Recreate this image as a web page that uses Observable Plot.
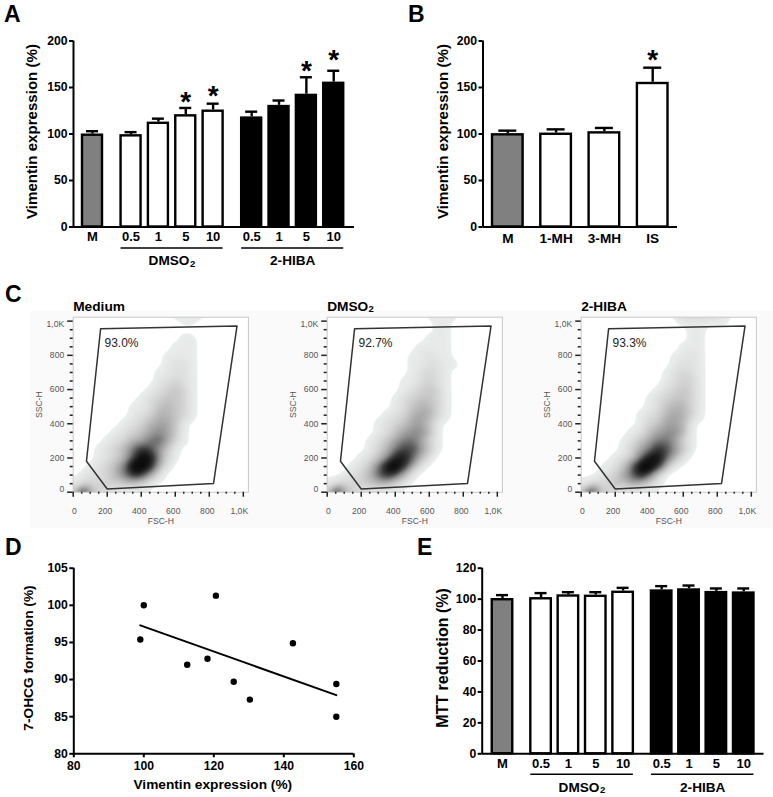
<!DOCTYPE html>
<html><head><meta charset="utf-8">
<script src="https://cdn.jsdelivr.net/npm/d3@7"></script>
<script src="https://cdn.jsdelivr.net/npm/@observablehq/plot@0.6"></script>
<style>
html,body{margin:0;padding:0;background:#fff;overflow:hidden}
#page{position:relative;width:773px;height:797px;overflow:hidden;font-family:"Liberation Sans",Arial,sans-serif}
#page svg{position:absolute;overflow:visible;background:transparent}
.letter{position:absolute;font-weight:bold;font-size:23px;line-height:1;color:#000}
#cbg{position:absolute;left:30px;top:311px;width:743px;height:217px;background:#fafafa}
</style></head><body><div id="page"><div id="cbg"></div></div>
<script>
// Panel A
const aLabels = ["M","0.5","1","5","10","0.5","1","5","10"];
const aGroups = [0,1,1,1,1,2,2,2,2];
const aValues = [100,99.3,112.8,120.8,125.8,118.4,130.8,142.8,155.8];
const aErrors = [3,2.7,3.7,7.2,6.8,5.6,5.2,18.2,12.2];
const aStars  = [null,null,null,139,145,null,null,172,183.5];
const groupNames = ["DMSO","2-HIBA"];
const groupSubs  = ["2",null];
const vimTicks = [0,50,100,150,200];
// Panel B
const bLabels = ["M","1-MH","3-MH","IS"];
const bGroups = [0,1,1,1];
const bValues = [100.4,101,102.5,155.6];
const bErrors = [3.2,4,4,15.7];
const bStars  = [null,null,null,184];
// Panel D
const dVimentin = [99,100,112.4,118.2,120.6,125.7,130.3,142.6,155,155];
const dOhcg     = [95.4,100,92,92.8,101.3,89.7,87.3,94.9,89.4,85];
const dFitX = [99,155];
const dFitY = [97.3,87.9];
const dTicksX = [80,100,120,140,160];
const dTicksY = [80,85,90,95,100,105];
// Panel E
const eValues = [100.4,101,102.8,102.6,105.2,106,106.7,105,104.7];
const eErrors = [2.2,2.9,1.7,1.9,2.1,2.4,2.1,1.9,2.2];
const eTicks  = [0,20,40,60,80,100,120];
// Panel C: density, one hex digit per FSC step (0..1000 by 50), one row per SSC level
const cSsc = [1023,1000,950,900,850,800,750,700,650,600,550,500,450,400,350,300,250,200,150,100,50,0];
const cMedium = [
"000000000000111100000",
"000000000000011000000",
"000000000000000000000",
"000000000000011000000",
"000000000000111000000",
"000000000001111000000",
"000000000001221000000",
"000000000011221000000",
"000000000012321000000",
"000000000123431000000",
"000000001234431000000",
"000000011245431000000",
"000000012355431000000",
"000000123566410000000",
"000001234676410000000",
"000012356896310000000",
"00012358ba74100000000",
"00012359ed83100000000",
"0012358efc62000000000",
"0122358ba620000000000",
"123333443100000000000",
"4c6321000000000000000"];
const cDmso = [
"000000000000111100000",
"000000000000011000000",
"000000000000011000000",
"000000000000111000000",
"000000000001111000000",
"000000000011211000000",
"000000000011221100000",
"000000000012321000000",
"000000000112321000000",
"000000000123431000000",
"000000001234431000000",
"000000001245531000000",
"000000012356531000000",
"000000123466410000000",
"000000124677510000000",
"000001246886310000000",
"000001358aa7410000000",
"00001247cd95200000000",
"0001248dfb62000000000",
"0012359b9510000000000",
"123334553100000000000",
"4c6321000000000000000"];
const cHiba = [
"000000000001333321000",
"000000000000111111000",
"000000000000011000000",
"000000000000011000000",
"000000000000111000000",
"000000000001121000000",
"000000000001221000000",
"000000000012321000000",
"000000000012331000000",
"000000000123431000000",
"000000001234431000000",
"000000001245531000000",
"000000012356531000000",
"000000013466510000000",
"000000124677510000000",
"000001246886310000000",
"000001368ba7410000000",
"00001248de95200000000",
"0001249efb51000000000",
"0012369c8300000000000",
"123344653100000000000",
"4c6321000000000000000"];
const cTitles = ["Medium","DMSO","2-HIBA"];
const cTitleSubs = [null,"2",null];
const cPercents = ["93.0%","92.7%","93.3%"];
const gateFsc = [161,963,825,200,78,161];
const gateSsc = [955,971,51,19,181,955];
const cMajor = [0,200,400,600,800,1000];
const cMinor = [50,100,150,250,300,350,450,500,550,650,700,750,850,900,950];

const FONT = '"Liberation Sans",Arial,sans-serif';
const page = document.getElementById("page");
function place(svg,x,y){svg.style.left=x+"px";svg.style.top=y+"px";page.appendChild(svg);}
function letter(t,x,base){const d=document.createElement("div");d.className="letter";d.textContent=t;d.style.left=x+"px";d.style.top=(base-19.5)+"px";page.appendChild(d);}
const baseStyle = {fontFamily:FONT,fontWeight:"bold",fontSize:"13px",color:"#000",background:"transparent",overflow:"visible"};

function barPanel(c){
  let pos=0;
  const rows=c.values.map((v,i)=>{
    if(i>0) pos+=1+(c.groups[i]!==c.groups[i-1]?c.gap:0);
    return {label:c.labels[i],group:c.groups[i],v,top:v+c.errors[i],star:c.stars?c.stars[i]:null,p:pos,
      fill:c.groups[i]===0?"#808080":(c.groups[i]===2?"#000":"#fff")};
  });
  const lo=(c.axis[0]-c.center0)/c.step, hi=(c.axis[1]-c.center0)/c.step;
  const hw=c.barW/2/c.step, cap=c.capW/2/c.step;
  const mL=c.axis[0]-c.box[0], mR=c.box[0]+c.box[2]-c.axis[1];
  const mT=c.yPx[1]-c.box[1], mB=c.box[1]+c.box[3]-c.yPx[0];
  const marks=[
    Plot.ruleX(rows,{x:"p",y1:"v",y2:"top",stroke:"#000",strokeWidth:2.4}),
    Plot.ruleY(rows,{y:"top",x1:d=>d.p-cap,x2:d=>d.p+cap,stroke:"#000",strokeWidth:2.4}),
    Plot.rect(rows,{x1:d=>d.p-hw,x2:d=>d.p+hw,y1:()=>0,y2:"v",insetTop:1.2,fill:"fill",stroke:"#000",strokeWidth:2.4}),
    Plot.axisY({ticks:c.yTicks,tickSize:4,tickPadding:2,strokeWidth:2,stroke:"#000",fill:"#000",label:null,fontSize:12.2,tickFormat:d=>d}),
    Plot.ruleX([lo],{stroke:"#000",strokeWidth:2}),
    Plot.ruleY([0],{stroke:"#000",strokeWidth:2}),
    Plot.text(rows,{x:"p",y:()=>0,text:"label",dy:c.labelDy,lineAnchor:"middle",fontSize:c.labelFont,fill:"#000"}),
    Plot.text([c.yTitle],{frameAnchor:"left",textAnchor:"middle",lineAnchor:"middle",rotate:-90,dx:c.titleX-c.axis[0],dy:c.titleDy,fontSize:c.titleFont,fill:"#000"})
  ];
  const starred=rows.filter(d=>d.star!=null);
  if(starred.length) marks.push(Plot.text(starred,{x:"p",y:"star",text:()=>"*",lineAnchor:"middle",dy:4,fontSize:28,fill:"#000"}));
  if(c.groupNames){
    c.groupNames.forEach((name,k)=>{
      const g=rows.filter(d=>d.group===k+1);
      const a=g[0].p-hw,b=g[g.length-1].p+hw,m=(a+b)/2,sub=c.groupSubs[k];
      marks.push(Plot.ruleY([0],{x1:a,x2:b,dy:c.groupRuleDy,stroke:"#000",strokeWidth:1.5}));
      marks.push(Plot.text([name],{x:m,y:()=>0,dx:sub?-23.5:0,dy:c.groupTextDy,textAnchor:sub?"start":"middle",lineAnchor:"middle",fontSize:13.6,fill:"#000"}));
      if(sub) marks.push(Plot.text([sub],{x:m,y:()=>0,dx:17.8,dy:c.groupTextDy+3,textAnchor:"start",lineAnchor:"middle",fontSize:9.5,fill:"#000"}));
    });
  }
  const svg=Plot.plot({width:c.box[2],height:c.box[3],marginLeft:mL,marginRight:mR,marginTop:mT,marginBottom:mB,
    x:{type:"linear",domain:[lo,hi],axis:null},y:{domain:c.yDomain,axis:null},color:{type:"identity"},style:baseStyle,marks});
  place(svg,c.box[0],c.box[1]);
}

barPanel({box:[0,20,375,250],axis:[73,354],yPx:[226.5,40.5],center0:92,step:27.35,gap:0.41,barW:20,capW:12,
  labels:aLabels,groups:aGroups,values:aValues,errors:aErrors,stars:aStars,groupNames,groupSubs,yTicks:vimTicks,yDomain:[0,200],
  yTitle:"Vimentin expression (%)",titleX:32,titleDy:-2.5,titleFont:15.1,labelDy:9.5,labelFont:13,groupRuleDy:21,groupTextDy:34});
barPanel({box:[400,20,290,230],axis:[482.5,677],yPx:[226.5,40.5],center0:507.3,step:48.3,gap:0,barW:30.6,capW:18,
  labels:bLabels,groups:bGroups,values:bValues,errors:bErrors,stars:bStars,yTicks:vimTicks,yDomain:[0,200],
  yTitle:"Vimentin expression (%)",titleX:442.7,titleDy:-2.5,titleFont:15.1,labelDy:11.5,labelFont:13.6});
barPanel({box:[400,555,373,242],axis:[481.7,763.5],yPx:[753.3,567.7],center0:502,step:27.35,gap:0.41,barW:20.5,capW:12,
  labels:aLabels,groups:aGroups,values:eValues,errors:eErrors,groupNames,groupSubs,yTicks:eTicks,yDomain:[0,120],
  yTitle:"MTT reduction (%)",titleX:442.7,titleDy:-3,titleFont:16,labelDy:10,labelFont:13,groupRuleDy:20.5,groupTextDy:33.5});

// Panel D
{
  const pts=dVimentin.map((x,i)=>({x,y:dOhcg[i]}));
  const fit=dFitX.map((x,i)=>({x,y:dFitY[i]}));
  const box=[0,555,375,242];
  const svg=Plot.plot({width:box[2],height:box[3],marginLeft:73.3,marginRight:375-353.3,marginTop:567.7-555,marginBottom:797-753.3,
    x:{domain:[80,160],axis:null},y:{domain:[80,105],axis:null},style:baseStyle,marks:[
      Plot.axisY({ticks:dTicksY,tickSize:4,tickPadding:2,strokeWidth:2,stroke:"#000",fill:"#000",label:null,fontSize:12.2,tickFormat:d=>d}),
      Plot.axisX({ticks:dTicksX,tickSize:4,tickPadding:4,strokeWidth:2,stroke:"#000",fill:"#000",label:null,fontSize:12.2,tickFormat:d=>d}),
      Plot.ruleX([80],{stroke:"#000",strokeWidth:2}),
      Plot.ruleY([80],{stroke:"#000",strokeWidth:2}),
      Plot.line(fit,{x:"x",y:"y",stroke:"#000",strokeWidth:2}),
      Plot.dot(pts,{x:"x",y:"y",r:3.2,fill:"#000"}),
      Plot.text(["Vimentin expression (%)"],{frameAnchor:"bottom",lineAnchor:"middle",dy:30.5,dx:-1,fontSize:13.7,fill:"#000"}),
      Plot.text(["7-OHCG formation (%)"],{frameAnchor:"left",textAnchor:"middle",lineAnchor:"middle",rotate:-90,dx:28-73.3,dy:-3,fontSize:13.7,fill:"#000"})
    ]});
  place(svg,box[0],box[1]);
}

// Panel C
function smoothField(index,w,h,X,Y,V){
  const B=Plot.interpolatorBarycentric()(index,w,h,X,Y,V);
  const W=Float64Array.from(B,v=>+v||0);
  if(d3.blur2) d3.blur2({data:W,width:w,height:h},3);
  return W;
}
function flowPanel(i,grid,x0){
  const cells=[];
  grid.forEach((row,r)=>{for(let k=0;k<=20;k++){const ch=row[k]||"0";cells.push({f:k*50,s:cSsc[r],v:parseInt(ch,16)});}});
  const gate=gateFsc.map((f,k)=>({f,s:gateSsc[k]}));
  const left=x0-42.7, top=312;
  const tick={strokeWidth:1.5,stroke:"#222",fill:"#555",label:null};
  const small={fontSize:8.6,fontWeight:"normal",fill:"#555",fontFamily:FONT};
  const marks=[
      Plot.frame({fill:"#fff",stroke:"none"}),
      Plot.raster(cells,{x:"f",y:"s",fill:"v",interpolate:smoothField,pixelSize:1}),
      Plot.frame({stroke:"#c8c8c8",strokeWidth:1}),
      Plot.axisY({ticks:cMinor,tickSize:3,tickFormat:()=>"",...tick}),
      Plot.axisY({ticks:cMajor,tickSize:5.5,tickFormat:()=>"",...tick}),
      Plot.axisX({ticks:cMinor,tickSize:2,tickFormat:()=>"",...tick}),
      Plot.axisX({ticks:cMajor,tickSize:5,tickFormat:()=>"",...tick}),
      Plot.line(gate,{x:"f",y:"s",stroke:"#333",strokeWidth:1.5}),
      Plot.text([0],{x:d=>d,frameAnchor:"bottom",lineAnchor:"middle",dy:19,dx:1.2,text:()=>"0",...small}),
      Plot.text(cMajor.slice(1,5),{x:d=>d,frameAnchor:"bottom",lineAnchor:"middle",dy:19,dx:-2,text:d=>String(d),...small}),
      Plot.text([1000],{x:d=>d,frameAnchor:"bottom",lineAnchor:"middle",dy:19,dx:-4,text:()=>"1,0K",...small}),
      Plot.text([0],{y:d=>d,frameAnchor:"left",textAnchor:"end",lineAnchor:"middle",dx:-9,dy:-3,text:()=>"0",...small}),
      Plot.text(cMajor.slice(1,5),{y:d=>d,frameAnchor:"left",textAnchor:"end",lineAnchor:"middle",dx:-9,text:d=>String(d),...small}),
      Plot.text([1000],{y:d=>d,frameAnchor:"left",textAnchor:"end",lineAnchor:"middle",dx:-9,dy:3,text:()=>"1,0K",...small}),
      Plot.text(["FSC-H"],{frameAnchor:"bottom",lineAnchor:"middle",dy:29.5,...small}),
      Plot.text(["SSC-H"],{frameAnchor:"left",textAnchor:"middle",lineAnchor:"middle",rotate:-90,dx:-33.7,...small}),
      Plot.text([cPercents[i]],{x:()=>184,y:()=>873,textAnchor:"start",lineAnchor:"middle",fontSize:12,fontWeight:"normal",fill:"#222"}),
      Plot.text([cTitles[i]],{frameAnchor:"top-left",textAnchor:"start",lineAnchor:"middle",dy:-11,fontSize:13.7,fill:"#000"})
  ];
  if(cTitleSubs[i]) marks.push(Plot.text([cTitleSubs[i]],{frameAnchor:"top-left",textAnchor:"start",lineAnchor:"middle",dx:41.3,dy:-8,fontSize:9.5,fill:"#000"}));
  const svg=Plot.plot({width:225,height:216,marginLeft:42.7,marginRight:225-42.7-175.2,marginTop:4.7,marginBottom:36.3,
    x:{domain:[0,1030],axis:null},y:{domain:[0,1023],axis:null},
    color:{type:"linear",interpolate:"rgb",domain:[0,0.42,0.5,1,2,3,4,5,6,7,8.5,10,12,15],
      range:["#fff","#fff","#e9eeeb","#e7eae9","#dedfdf","#d3d3d3","#c5c5c5","#b5b5b5","#a3a3a3","#8f8f8f","#666","#3c3c3c","#181818","#000"]},
    style:baseStyle,marks});
  place(svg,left,top);
}
flowPanel(0,cMedium,72.7);
flowPanel(1,cDmso,326.7);
flowPanel(2,cHiba,581);

letter("A",4,22);letter("B",408,22);letter("C",5,302);letter("D",5,555);letter("E",417,555);
</script></body></html>
